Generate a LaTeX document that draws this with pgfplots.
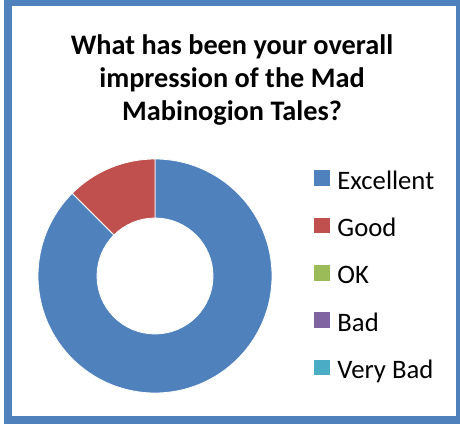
\documentclass[border=0pt]{standalone}
\usepackage{pgfplots}
\pgfplotsset{compat=1.18}
\usepackage{pgfplotstable}
\usepackage{fontspec}
\setmainfont{Carlito}
\definecolor{c0}{HTML}{4F81BD}
\definecolor{c1}{HTML}{C0504D}
\definecolor{c2}{HTML}{9BBB59}
\definecolor{c3}{HTML}{8064A2}
\definecolor{c4}{HTML}{4BACC6}
\pgfplotstableread[col sep=comma]{
label,value
Excellent,7
Good,1
OK,0
Bad,0
Very Bad,0
}\datatable
\begin{document}
\begin{tikzpicture}
\useasboundingbox (0,0) rectangle (345pt,318pt);
% total
\gdef\total{0}
\pgfplotsforeachungrouped \i in {0,...,4}{%
  \pgfplotstablegetelem{\i}{value}\of\datatable
  \pgfmathsetmacro\total{\total+\pgfplotsretval}%
}
\begin{axis}[
  at={(0,0)}, anchor=origin,
  x=0.75pt, y=0.75pt, xmin=0, xmax=460, ymin=0, ymax=424,
  scale only axis, hide axis, clip=false,
  legend style={at={(axis cs:314,254)}, anchor=north west, draw=none, fill=none,
    font=\fontsize{20}{22}\selectfont, row sep=16.8pt, inner sep=0pt,
    nodes={inner sep=0pt, text height=13.5pt, text depth=4.5pt},
    /tikz/every odd column/.append style={column sep=6pt}},
  legend cell align=left,
]
\def\R{87.75pt}
\def\r{43.5pt}
\def\cum{0}
\pgfplotsforeachungrouped \i in {0,...,4}{%
  \pgfplotstablegetelem{\i}{value}\of\datatable
  \let\v\pgfplotsretval
  \pgfmathsetmacro\a{90-360*\cum/\total}%
  \pgfmathsetmacro\b{90-360*(\cum+\v)/\total}%
  \pgfmathsetmacro\cum{\cum+\v}%
  \ifdim\v pt>0pt
    \edef\temp{\noexpand\fill[c\i, draw=white, line width=0.6pt]
      ([shift={(\a:\R)}]axis cs:155,148) arc[start angle=\a, end angle=\b, radius=\R]
      -- ([shift={(\b:\r)}]axis cs:155,148) arc[start angle=\b, end angle=\a, radius=\r] -- cycle;}%
    \temp
  \fi
}
\pgfplotsforeachungrouped \i in {0,...,4}{%
  \pgfplotstablegetelem{\i}{label}\of\datatable
  \let\lab\pgfplotsretval
  \edef\temp{\noexpand\addlegendimage{legend image code/.code={\noexpand\fill[c\i] (0pt,-1.5pt) rectangle (11pt,9.5pt);}}
    \noexpand\addlegendentry{\lab}}%
  \temp
}
\node[align=center, font=\fontsize{21.2}{24.75}\selectfont\bfseries] at (axis cs:232,344)
  {What has been your overall\\impression of the Mad\\Mabinogion Tales?};
\end{axis}
\draw[c0, line width=6pt] (6pt,3pt) rectangle (345pt,316.5pt);
\end{tikzpicture}
\end{document}
